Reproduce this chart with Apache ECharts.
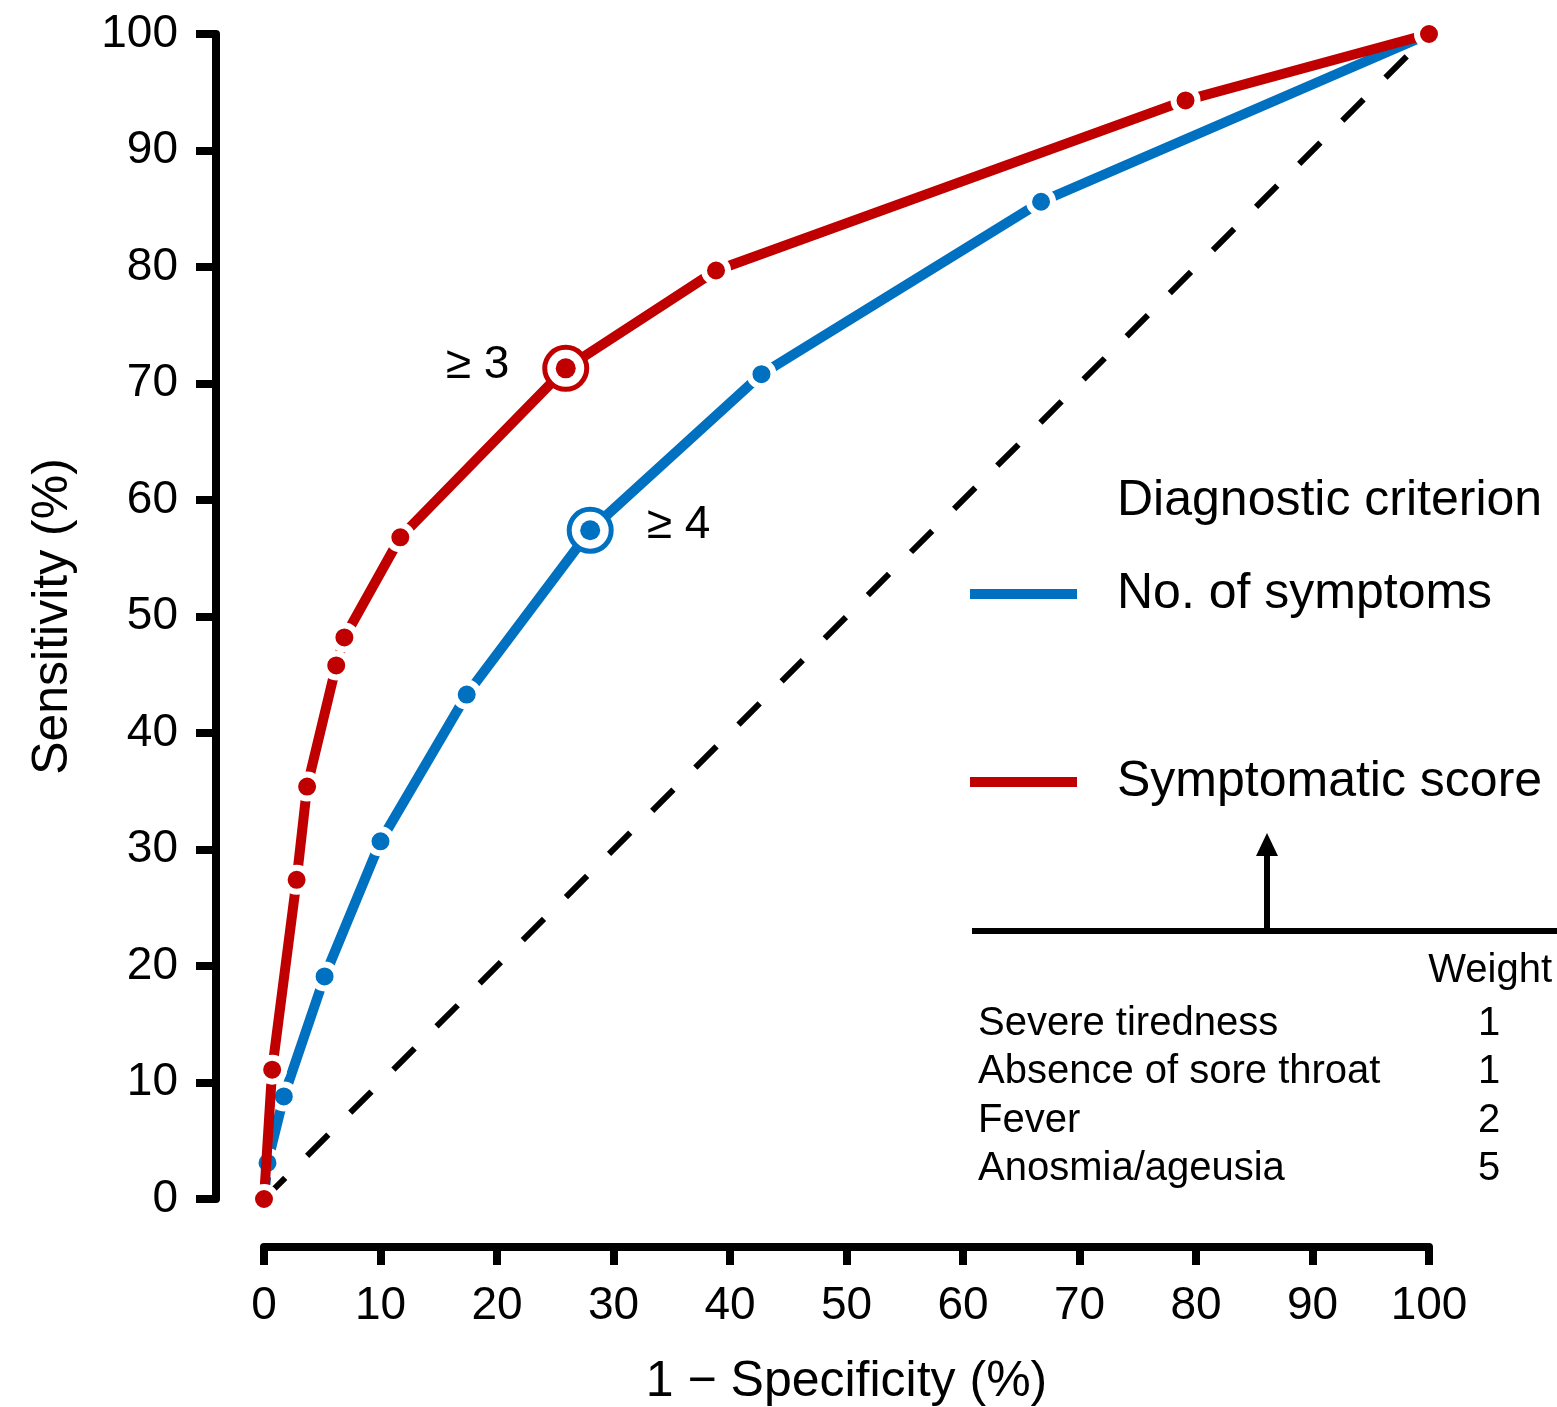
<!DOCTYPE html>
<html>
<head>
<meta charset="utf-8">
<script src="https://cdn.jsdelivr.net/npm/echarts@6/dist/echarts.min.js"></script>
<style>html,body{margin:0;padding:0;background:#fff;}#c{width:1557px;height:1407px;}</style>
</head>
<body>
<div id="c"></div>
<script>
// ---- data ----
const xTicks = [0, 10, 20, 30, 40, 50, 60, 70, 80, 90, 100];
const countFpr = [0, 0.3, 1.7, 5.2, 10.0, 17.4, 28.0, 42.7, 66.7, 100];
const countSens = [0, 3.1, 8.8, 19.1, 30.7, 43.3, 57.4, 70.8, 85.6, 100];
const scoreFpr = [0, 0.7, 2.8, 3.7, 6.2, 6.9, 11.7, 25.9, 38.8, 79.1, 100];
const scoreSens = [0, 11.1, 27.4, 35.4, 45.8, 48.2, 56.8, 71.3, 79.7, 94.3, 100];
const refX = [0, 100];
const refY = [0, 100];
const cutCount = [28.0, 57.4];
const cutScore = [25.9, 71.3];
const cutCountLabel = '\u2265 4';
const cutScoreLabel = '\u2265 3';
const seriesNames = ['No. of symptoms', 'Symptomatic score'];
const symptomNames = ['Severe tiredness', 'Absence of sore throat', 'Fever', 'Anosmia/ageusia'];
const symptomWeights = [1, 1, 2, 5];

const BLUE = '#0070C0', RED = '#C00000';
const FONT = '"Liberation Sans", Arial, sans-serif';

const zip = (a, b) => a.map((v, i) => [v, b[i]]);

const chart = echarts.init(document.getElementById('c'));

const tableGraphics = [];
tableGraphics.push({
  type: 'text', right: 5, top: 951,
  style: { text: 'Weight', font: '40px ' + FONT, fill: '#000', textAlign: 'right' }
});
symptomNames.forEach((n, i) => {
  tableGraphics.push({
    type: 'text', left: 978, top: 1004 + i * 48.3,
    style: { text: n, font: '40px ' + FONT, fill: '#000' }
  });
  tableGraphics.push({
    type: 'text', x: 1489, y: 1004 + i * 48.3,
    style: { text: String(symptomWeights[i]), font: '40px ' + FONT, fill: '#000', textAlign: 'center' }
  });
});

const option = {
  backgroundColor: '#fff',
  animation: false,
  textStyle: { fontFamily: FONT },
  title: {
    text: 'Diagnostic criterion',
    left: 1117, top: 473, padding: 0,
    textStyle: { fontSize: 50, fontWeight: 'normal', color: '#000', lineHeight: 56, fontFamily: FONT }
  },
  legend: {
    data: seriesNames,
    orient: 'vertical',
    left: 970, top: 564, padding: 0,
    itemGap: 128,
    itemWidth: 107, itemHeight: 10,
    icon: 'rect',
    selectedMode: false,
    itemStyle: { borderWidth: 0 },
    textStyle: { fontSize: 50, color: '#000', lineHeight: 56, padding: [4, 0, 0, 35], fontFamily: FONT }
  },
  grid: { left: 264, width: 1165, top: 34, height: 1165, containLabel: false, outerBoundsMode: 'none' },
  xAxis: {
    type: 'value', min: 0, max: 100, interval: 10, offset: 48,
    name: '1 \u2212 Specificity (%)', nameLocation: 'middle', nameGap: 110,
    nameTextStyle: { fontSize: 50, color: '#000', fontFamily: FONT },
    axisLine: { onZero: false, lineStyle: { color: '#000', width: 8 } },
    axisTick: { length: 18, lineStyle: { color: '#000', width: 8 } },
    axisLabel: { fontSize: 46, color: '#000', margin: 36, fontFamily: FONT },
    splitLine: { show: false }
  },
  yAxis: {
    type: 'value', min: 0, max: 100, interval: 10, offset: 48,
    name: 'Sensitivity (%)', nameLocation: 'middle', nameGap: 138,
    nameTextStyle: { fontSize: 50, color: '#000', fontFamily: FONT },
    axisLine: { onZero: false, lineStyle: { color: '#000', width: 8 } },
    axisTick: { length: 20, lineStyle: { color: '#000', width: 8 } },
    axisLabel: { fontSize: 46, color: '#000', margin: 38, fontFamily: FONT },
    splitLine: { show: false }
  },
  series: [
    {
      name: 'reference', type: 'line', z: 1, clip: false,
      data: zip(refX, refY), showSymbol: false, symbol: 'none',
      lineStyle: { color: '#000', width: 6, type: [30, 31] },
      silent: true
    },
    {
      name: seriesNames[0], type: 'line', z: 2, clip: false,
      data: zip(countFpr, countSens),
      symbol: 'circle', symbolSize: 24, showAllSymbol: true,
      lineStyle: { color: BLUE, width: 10 },
      itemStyle: { color: BLUE, borderColor: '#fff', borderWidth: 6 }
    },
    {
      name: seriesNames[1], type: 'line', z: 3, clip: false,
      data: zip(scoreFpr, scoreSens),
      symbol: 'circle', symbolSize: 24, showAllSymbol: true,
      lineStyle: { color: RED, width: 10 },
      itemStyle: { color: RED, borderColor: '#fff', borderWidth: 6 }
    },
    {
      name: 'cutRing', type: 'scatter', z: 4,
      symbol: 'circle', symbolSize: 42,
      itemStyle: { opacity: 1 },
      data: [
        { value: cutCount, itemStyle: { color: '#fff', borderColor: BLUE, borderWidth: 5, opacity: 1 },
          label: { show: true, position: 'right', distance: 33, formatter: cutCountLabel, offset: [0, -5],
                   fontSize: 46, color: '#000', fontFamily: FONT } },
        { value: cutScore, itemStyle: { color: '#fff', borderColor: RED, borderWidth: 5, opacity: 1 },
          label: { show: true, position: 'left', distance: 33, formatter: cutScoreLabel, offset: [0, -3],
                   fontSize: 46, color: '#000', fontFamily: FONT } }
      ]
    },
    {
      name: 'cutDot', type: 'scatter', z: 5,
      symbol: 'circle', symbolSize: 20,
      itemStyle: { opacity: 1 },
      data: [
        { value: cutCount, itemStyle: { color: BLUE, opacity: 1 } },
        { value: cutScore, itemStyle: { color: RED, opacity: 1 } }
      ]
    }
  ],
  graphic: [
    { type: 'line', shape: { x1: 972, y1: 931, x2: 1557, y2: 931 }, style: { stroke: '#000', lineWidth: 6 } },
    { type: 'line', shape: { x1: 1267, y1: 931, x2: 1267, y2: 850 }, style: { stroke: '#000', lineWidth: 6 } },
    { type: 'polygon', shape: { points: [[1267, 833], [1256, 856], [1278, 856]] }, style: { fill: '#000' } }
  ].concat(tableGraphics)
};

chart.setOption(option);
</script>
</body>
</html>
